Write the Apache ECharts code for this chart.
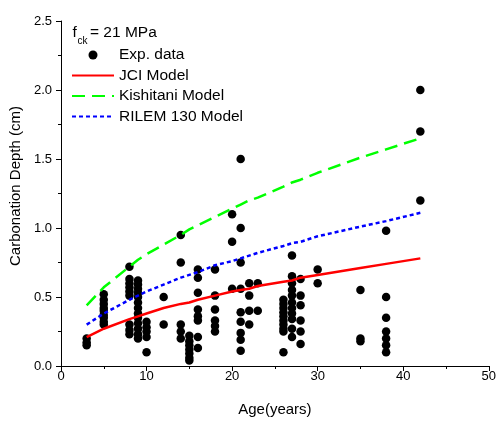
<!DOCTYPE html>
<html>
<head>
<meta charset="utf-8">
<script src="https://cdn.jsdelivr.net/npm/echarts@6/dist/echarts.min.js"></script>
<style>html,body{margin:0;padding:0;background:#fff;}#c{width:499px;height:422px;}</style>
</head>
<body>
<div id="c"></div>
<script>
// Experimental data (age in years, carbonation depth in cm)
var expAge = [
  3,3,3,
  5,5,5,5,5,5,5,5,5,
  8,8,8,8,8,8,8,8,8,
  9,9,9,9,9,9,9,9,9,9,9,9,9,
  10,10,10,10,10,
  12,12,
  14,14,14,14,14,
  15,15,15,15,15,15,15,
  16,16,16,16,16,16,16,16,
  18,18,18,18,18,18,
  20,20,20,
  21,21,21,21,21,21,21,21,21,
  22,22,22,22,
  23,23,
  26,26,26,26,26,26,26,26,26,26,
  27,27,27,27,27,27,27,27,27,27,27,
  28,28,28,28,28,28,
  30,30,
  35,35,35,
  38,38,38,38,38,38,38,
  42,42,42
];
var expDepth = [
  0.20,0.17,0.15,
  0.52,0.48,0.45,0.42,0.40,0.37,0.35,0.32,0.30,
  0.72,0.63,0.60,0.57,0.54,0.51,0.30,0.26,0.23,
  0.62,0.59,0.56,0.53,0.50,0.46,0.42,0.38,0.35,0.31,0.27,0.23,0.20,
  0.32,0.28,0.25,0.21,0.10,
  0.50,0.30,
  0.95,0.75,0.30,0.25,0.20,
  0.22,0.18,0.15,0.12,0.09,0.06,0.04,
  0.70,0.64,0.53,0.41,0.36,0.33,0.21,0.13,
  0.70,0.51,0.41,0.33,0.29,0.25,
  1.10,0.90,0.56,
  1.50,1.00,0.75,0.56,0.39,0.32,0.24,0.19,0.11,
  0.60,0.51,0.40,0.30,
  0.60,0.40,
  0.48,0.45,0.42,0.39,0.36,0.33,0.30,0.27,0.25,0.10,
  0.80,0.65,0.60,0.55,0.51,0.46,0.42,0.38,0.34,0.27,0.21,
  0.63,0.51,0.44,0.33,0.25,0.16,
  0.70,0.60,
  0.55,0.20,0.18,
  0.98,0.50,0.35,0.25,0.20,0.15,0.10,
  2.00,1.70,1.20
];
// Model curves
var modelAge  = [3,5,8,9,10,12,14,15,16,18,20,21,22,23,26,27,28,30,35,38,42];
var jciModel  = [0.21,0.27,0.34,0.36,0.38,0.42,0.45,0.46,0.48,0.51,0.54,0.55,0.56,0.58,0.61,0.62,0.64,0.66,0.71,0.74,0.78];
var kishitani = [0.44,0.57,0.72,0.77,0.81,0.88,0.95,0.99,1.02,1.08,1.14,1.17,1.20,1.22,1.30,1.33,1.35,1.40,1.51,1.57,1.65];
var rilem     = [0.30,0.38,0.48,0.51,0.54,0.59,0.64,0.66,0.68,0.73,0.76,0.78,0.80,0.82,0.87,0.89,0.90,0.94,1.01,1.05,1.11];

var FONT = '"Liberation Sans", Arial, sans-serif';
function pairs(xs, ys){ return xs.map(function(x,i){ return [x, ys[i]]; }); }

var chart = echarts.init(document.getElementById('c'), null, {renderer:'canvas'});
chart.setOption({
  animation: false,
  backgroundColor: '#fff',
  grid: {left: 61, right: 7, top: 21, bottom: 55, containLabel: false},
  xAxis: {
    type: 'value', min: 0, max: 50, interval: 10,
    name: 'Age(years)', nameLocation: 'middle', nameGap: 36,
    nameTextStyle: {fontSize: 15, fontFamily: FONT, color: '#000'},
    axisLine: {show: true, onZero: false, lineStyle: {color: '#000', width: 1}},
    axisTick: {show: true, inside: false, length: 5, lineStyle: {color: '#000'}},
    minorTick: {show: true, splitNumber: 2, length: 3, lineStyle: {color: '#000'}},
    axisLabel: {fontSize: 13, fontFamily: FONT, color: '#000', margin: 4},
    splitLine: {show: false}
  },
  yAxis: {
    type: 'value', min: 0, max: 2.5, interval: 0.5,
    axisLine: {show: true, onZero: false, lineStyle: {color: '#000', width: 1}},
    axisTick: {show: true, inside: false, length: 5, lineStyle: {color: '#000'}},
    minorTick: {show: true, splitNumber: 2, length: 3, lineStyle: {color: '#000'}},
    axisLabel: {fontSize: 13, fontFamily: FONT, color: '#000', margin: 9,
      formatter: function(v){ return v.toFixed(1); }},
    splitLine: {show: false}
  },
  legend: {
    orient: 'vertical', left: 66, top: 41.5,
    itemWidth: 42, itemHeight: 9, itemGap: 3.5,
    textStyle: {fontSize: 15.5, fontFamily: FONT, color: '#000', lineHeight: 17},
    data: [
      {name: 'Exp. data'},
      {name: 'JCI Model', itemStyle: {opacity: 0}},
      {name: 'Kishitani Model', itemStyle: {opacity: 0}},
      {name: 'RILEM 130 Model', itemStyle: {opacity: 0}}
    ]
  },
  graphic: [
    {type: 'text', left: 72.5, top: 25, style: {text: 'f', font: '15.5px ' + FONT, fill: '#000'}},
    {type: 'text', left: 77.5, top: 36.5, style: {text: 'ck', font: '10px ' + FONT, fill: '#000'}},
    {type: 'text', left: 90, top: 25, style: {text: '= 21 MPa', font: '15.5px ' + FONT, fill: '#000'}},
    {type: 'text', x: 16, y: 186, rotation: Math.PI/2,
      style: {text: 'Carbonation Depth (cm)', font: '15px ' + FONT, fill: '#000', textAlign: 'center', textVerticalAlign: 'middle'}}
  ],
  series: [
    {name: 'Exp. data', type: 'scatter', symbol: 'circle', symbolSize: 8.5,
      itemStyle: {color: '#000', opacity: 1}, data: pairs(expAge, expDepth), z: 2},
    {name: 'JCI Model', type: 'line', symbol: 'none', showSymbol: false,
      lineStyle: {color: '#ff0000', width: 2.5, type: 'solid'},
      itemStyle: {color: '#ff0000'}, data: pairs(modelAge, jciModel), z: 3},
    {name: 'Kishitani Model', type: 'line', symbol: 'none', showSymbol: false,
      lineStyle: {color: '#00ff00', width: 2.5, type: [13, 7]},
      itemStyle: {color: '#00ff00'}, data: pairs(modelAge, kishitani), z: 3},
    {name: 'RILEM 130 Model', type: 'line', symbol: 'none', showSymbol: false,
      lineStyle: {color: '#0000ff', width: 2.5, type: [4, 3]},
      itemStyle: {color: '#0000ff'}, data: pairs(modelAge, rilem), z: 3}
  ]
});
</script>
</body>
</html>
